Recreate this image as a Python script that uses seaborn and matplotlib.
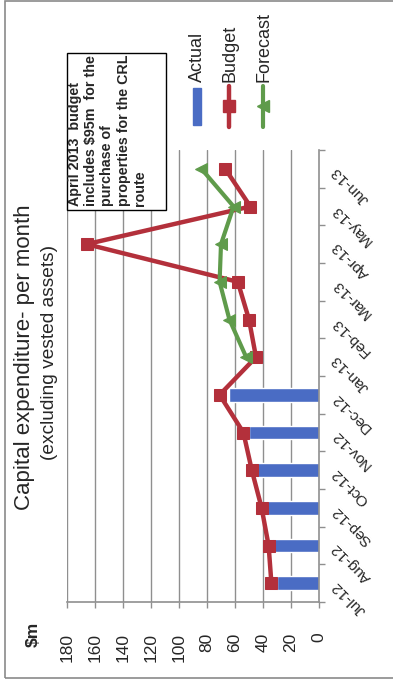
import numpy as np
import pandas as pd
import matplotlib
matplotlib.use("Agg")
import matplotlib.pyplot as plt
import seaborn as sns
from matplotlib.patches import Rectangle
from matplotlib.lines import Line2D

# Monthly capital expenditure ($m), July 2012 - June 2013
months = ["Jul-12", "Aug-12", "Sep-12", "Oct-12", "Nov-12", "Dec-12",
          "Jan-13", "Feb-13", "Mar-13", "Apr-13", "May-13", "Jun-13"]
actual = [30, 33, 37, 46, 50, 64]
budget = [34, 36, 41, 48, 54, 71, 45, 50, 58, 166, 49, 67]
forecast = [52, 64, 71, 70, 61, 84]
value_ticks = [0, 20, 40, 60, 80, 100, 120, 140, 160, 180]

BLUE = "#4a6cc4"
RED = "#b3303b"
GREEN = "#5f9b4b"
GRID = "#8f8f8f"

sns.set_theme(style="white")
plt.rcParams["font.family"] = ["Liberation Sans", "DejaVu Sans"]

W, H = 393, 680
fig = plt.figure(figsize=(W / 100, H / 100), dpi=100)


def fx(x):
    return x / W


def fy(y):
    return 1 - y / H


# The chart is laid out turned on its side: values run right-to-left,
# months run bottom-to-top along a right-hand axis.
ax = fig.add_axes([fx(67), fy(602), (319 - 67) / W, (602 - 150) / H])

pos = np.arange(len(months))
n_act = len(actual)
n_fc = len(forecast)
act_df = pd.DataFrame({"value": actual, "pos": pos[:n_act]})
bud_df = pd.DataFrame({"value": budget, "pos": pos})
fc_df = pd.DataFrame({"value": forecast, "pos": pos[len(months) - n_fc:]})

sns.barplot(data=act_df, x="value", y="pos", orient="h", native_scale=True,
            width=0.37, color=BLUE, saturation=1, ax=ax, zorder=2)
sns.lineplot(data=bud_df, x="value", y="pos", orient="y", sort=False,
             estimator=None, color=RED, lw=3.2, marker="s", ms=8,
             markeredgecolor=RED, ax=ax, zorder=3)
sns.lineplot(data=fc_df, x="value", y="pos", orient="y", sort=False,
             estimator=None, color=GREEN, lw=3.0, marker="<", ms=9,
             markeredgecolor=GREEN, ax=ax, zorder=4)

ax.set_xlim(180, 0)
ax.set_ylim(-0.5, len(months) - 0.5)
ax.set_xlabel("")
ax.set_ylabel("")
if ax.get_legend():
    ax.get_legend().remove()

# value axis (bottom)
ax.set_xticks(value_ticks)
ax.set_xticklabels([str(v) for v in value_ticks], rotation=90, fontsize=12.5)
ax.tick_params(axis="x", bottom=True, length=4, width=1, color=GRID, pad=18)
for v in value_ticks[1:]:
    ax.axvline(v, color=GRID, lw=1, zorder=1)

# month axis (right)
ax.yaxis.tick_right()
ax.set_yticks(pos)
ax.set_yticklabels(months, fontsize=11)
ax.set_yticks(np.arange(-0.5, len(months), 1), minor=True)
ax.tick_params(axis="y", which="major", length=0, pad=11, right=True, left=False)
ax.tick_params(axis="y", which="minor", length=4, width=1, color=GRID, right=True, left=False)
for lab in ax.get_yticklabels():
    lab.set_rotation(135)
    lab.set_rotation_mode("anchor")
    lab.set_horizontalalignment("right")
    lab.set_verticalalignment("center")

for side in ["top", "left"]:
    ax.spines[side].set_visible(False)
for side in ["bottom", "right"]:
    ax.spines[side].set_color(GRID)
    ax.spines[side].set_linewidth(1.2)

# titles and unit label
fig.text(fx(25), fy(357), "Capital expenditure- per month", rotation=90,
         ha="center", va="center", fontsize=16)
fig.text(fx(50), fy(352), "(excluding vested assets)", rotation=90,
         ha="center", va="center", fontsize=13.8)
fig.text(fx(33), fy(634), "$m", rotation=90, ha="center", va="center",
         fontsize=12.5, weight="bold")

# legend
fig.add_artist(Rectangle((fx(193), fy(125)), 8 / W, 37 / H,
                         transform=fig.transFigure, color=BLUE))
fig.add_artist(Line2D([fx(229)] * 3, [fy(86), fy(106), fy(127)],
                      transform=fig.transFigure, color=RED, lw=3.2,
                      marker="s", ms=8, markevery=[1]))
fig.add_artist(Line2D([fx(263)] * 3, [fy(86), fy(106), fy(127)],
                      transform=fig.transFigure, color=GREEN, lw=3.0,
                      marker="<", ms=9, markevery=[1]))
for x, label in [(197, "Actual"), (230, "Budget"), (264, "Forecast")]:
    fig.text(fx(x), fy(82), label, rotation=90, ha="left", va="center",
             rotation_mode="anchor", fontsize=13)

# note box
fig.add_artist(Rectangle((fx(67), fy(210)), (166 - 67) / W, (210 - 53) / H,
                         transform=fig.transFigure, facecolor="white",
                         edgecolor="black", lw=1.0, zorder=5))
fig.text(fx(68), fy(206),
         "April 2013  budget\nincludes $95m  for the\npurchase of\n"
         "properties for the CRL\nroute",
         rotation=90, ha="left", va="top", rotation_mode="anchor",
         fontsize=10.3, weight="bold", linespacing=1.2,
         multialignment="left", zorder=6)

# outer frame
fig.add_artist(Rectangle((fx(5), fy(678)), 1.2, (678 - 1) / H,
                         transform=fig.transFigure, fill=False,
                         edgecolor="#8a8a8a", lw=1.2))

fig.savefig("out.png", dpi=100)
